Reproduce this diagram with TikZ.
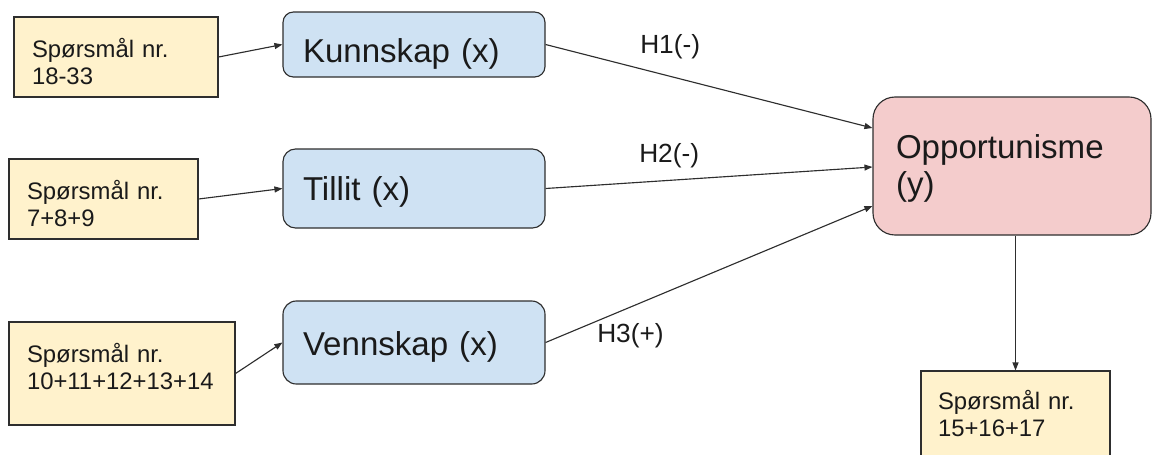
\documentclass[tikz,border=0pt]{standalone}
\usepackage{fontspec}
\setmainfont{Liberation Sans}
\usetikzlibrary{arrows.meta,calc}
\definecolor{qyellow}{HTML}{FFF2CC}
\definecolor{qblue}{HTML}{CFE2F3}
\definecolor{qpink}{HTML}{F4CCCC}
\definecolor{qline}{HTML}{2E2E2E}
\definecolor{qtext}{HTML}{1A1A1A}
\begin{document}
\begin{tikzpicture}[x=0.75pt,y=-0.75pt,
  box/.style={draw=qline,line width=0.85pt,inner ysep=0pt,align=left,text=qtext},
  qbox/.style={box,fill=qyellow,inner xsep=13.5pt,font=\fontsize{17.9}{20.25}\selectfont},
  vbox/.style={box,fill=qblue,inner xsep=15pt,font=\fontsize{24.8}{27.75}\selectfont},
  ybox/.style={box,fill=qpink,inner xsep=17.25pt,rounded corners=16.5pt,font=\fontsize{24.8}{27.75}\selectfont},
  conn/.style={draw=qline,line width=0.85pt,-{Triangle[length=6pt,width=4.5pt]}},
  hlab/.style={anchor=base west,inner sep=0pt,text=qtext,font=\fontsize{19.7}{22}\selectfont}]
\useasboundingbox (0,0) rectangle (1153,454);
\clip (0,0) rectangle (1153,454);
% question boxes
\node[qbox,minimum width=153pt,minimum height=60pt,text width=126pt,text height=30pt,text depth=30pt] (Y1) at (116,57) {Spørsmål nr.\\18-33};
\node[qbox,minimum width=141.75pt,minimum height=60pt,text width=114.75pt,text height=30pt,text depth=30pt] (Y2) at (103.5,199) {Spørsmål nr.\\7+8+9};
\node[qbox,minimum width=169.5pt,minimum height=77.25pt,text width=142.5pt,text height=30pt,text depth=47.25pt] (Y3) at (122,373.5) {Spørsmål nr.\\10+11+12+13+14};
\node[qbox,inner xsep=12.75pt,minimum width=141.75pt,minimum height=81.75pt,text width=116.25pt,text height=28.5pt,text depth=53.25pt] (Y4) at (1015.5,425.5) {Spørsmål nr.\\15+16+17};
% variable boxes
\node[vbox,rounded corners=7.8pt,minimum width=196.5pt,minimum height=48.75pt,text width=166.5pt,text height=37.5pt,text depth=11.25pt] (K) at (414,44.5) {Kunnskap (x)};
\node[vbox,rounded corners=9.4pt,minimum width=196.5pt,minimum height=59.25pt,text width=166.5pt,text height=38.25pt,text depth=21pt] (T) at (414,188.5) {Tillit (x)};
\node[vbox,rounded corners=10pt,minimum width=196.5pt,minimum height=62.25pt,text width=166.5pt,text height=40.5pt,text depth=21.75pt] (V) at (414,342.5) {Vennskap (x)};
\node[ybox,minimum width=208.5pt,minimum height=103.5pt,text width=174pt,text height=45.75pt,text depth=57.75pt] (P) at (1012,166) {Opportunisme\\(y)};
% connectors
\draw[conn] (Y1.east) -- (K.west);
\draw[conn] (Y2.east) -- (T.west);
\draw[conn] (Y3.east) -- (V.west);
\draw[conn] (K.east) -- ($(P.west)+(0,-38)$);
\draw[conn] (T.east) -- ($(P.west)+(0,1)$);
\draw[conn] (V.east) -- ($(P.west)+(0,40)$);
\draw[conn] (P.south -| Y4.north) -- (Y4.north);
% labels
\node[hlab] (h1) at (640,53) {H1(-)};
\node[hlab] (h2) at (639,162) {H2(-)};
\node[hlab] (h3) at (597,342) {H3(+)};
\end{tikzpicture}
\end{document}
